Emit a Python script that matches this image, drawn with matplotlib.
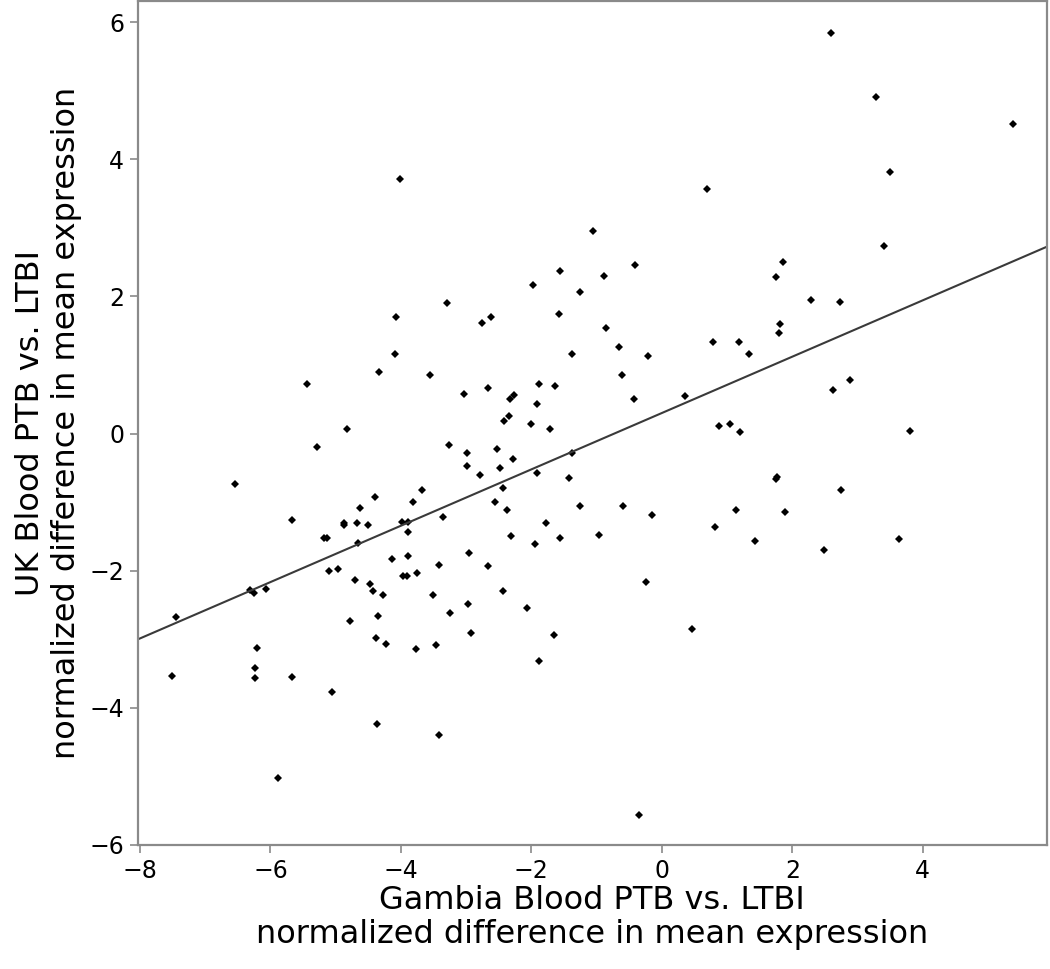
import numpy as np
import matplotlib
matplotlib.use('Agg')
import matplotlib.pyplot as plt

# ----------------------------
# Data
# ----------------------------
gambia = [
    -4.01, 0.69, -1.05, -1.56, -0.41, -0.88, -1.97, -1.25, -3.30, 2.59,
    3.28, 5.38, 3.50, 3.40, 1.85, 1.75, 2.29, 2.73, 1.81, 1.79,
    0.78, 1.18, 1.33, 2.89, 2.62, 0.87, 1.05, 1.20, 3.80, 1.77,
    1.75, 2.75, 1.13, 1.89, 0.82, 1.43, 2.49, 3.64, -2.75, -2.62,
    -1.57, -0.86, -0.66, -1.37, -0.21, -3.55, -0.61, -3.03, -2.67, -1.89,
    -1.64, -2.33, -2.27, -1.91, -0.42, 0.35, -2.35, -2.42, -2.01, -1.71,
    -3.26, -2.99, -2.52, -2.98, -2.28, -2.48, -2.78, -1.92, -1.37, -1.43,
    -2.43, -3.67, -3.81, -2.55, -2.38, -1.26, -0.59, -0.15, -3.35, -3.99,
    -3.89, -3.89, -1.78, -2.31, -1.94, -1.56, -0.97, -3.89, -3.42, -2.95,
    -2.67, -3.97, -3.91, -3.75, -3.51, -2.43, -3.24, -2.97, -2.07, -2.93,
    -1.65, -3.77, -3.46, -1.89, -0.24, 0.47, -3.41, -0.35, -7.44, -7.51,
    -6.31, -6.25, -6.07, -6.20, -6.24, -6.24, -5.67, -5.89, -5.10, -4.96,
    -5.05, -4.71, -4.78, -4.48, -4.43, -4.28, -4.35, -4.38, -4.23, -4.37,
    -4.14, -4.07, -4.09, -4.34, -5.44, -4.82, -5.29, -6.55, -5.67, -5.18,
    -5.14, -4.87, -4.87, -4.68, -4.50, -4.63, -4.39, -4.65,
]
uk = [
    3.72, 3.57, 2.95, 2.37, 2.46, 2.30, 2.17, 2.06, 1.91, 5.85,
    4.91, 4.52, 3.81, 2.74, 2.50, 2.28, 1.95, 1.92, 1.60, 1.47,
    1.34, 1.33, 1.16, 0.78, 0.64, 0.11, 0.14, 0.02, 0.04, -0.64,
    -0.66, -0.82, -1.12, -1.14, -1.36, -1.57, -1.70, -1.54, 1.61, 1.70,
    1.74, 1.54, 1.27, 1.16, 1.13, 0.85, 0.86, 0.58, 0.67, 0.72,
    0.69, 0.50, 0.57, 0.43, 0.51, 0.55, 0.25, 0.18, 0.14, 0.06,
    -0.17, -0.28, -0.22, -0.47, -0.37, -0.50, -0.61, -0.57, -0.28, -0.65,
    -0.80, -0.82, -1.00, -1.00, -1.12, -1.06, -1.06, -1.19, -1.22, -1.29,
    -1.29, -1.44, -1.31, -1.50, -1.61, -1.52, -1.48, -1.78, -1.92, -1.74,
    -1.93, -2.08, -2.08, -2.04, -2.36, -2.30, -2.61, -2.48, -2.54, -2.91,
    -2.94, -3.14, -3.09, -3.32, -2.17, -2.85, -4.39, -5.56, -2.67, -3.53,
    -2.28, -2.33, -2.27, -3.12, -3.42, -3.57, -3.55, -5.02, -2.01, -1.98,
    -3.77, -2.14, -2.74, -2.20, -2.30, -2.35, -2.66, -2.98, -3.07, -4.23,
    -1.83, 1.70, 1.16, 0.90, 0.72, 0.06, -0.19, -0.73, -1.26, -1.52,
    -1.52, -1.30, -1.34, -1.30, -1.34, -1.08, -0.92, -1.59,
]

# fitted line (slope, intercept)
fit_slope = 0.411
fit_intercept = 0.30

x_ticks = [-8, -6, -4, -2, 0, 2, 4]
y_ticks = [-6, -4, -2, 0, 2, 4, 6]

# ----------------------------
# Figure
# ----------------------------
fig = plt.figure(figsize=(10.5, 9.69), dpi=100)
ax = fig.add_axes([0.1314, 0.128, 0.8655, 0.871])

ax.plot(gambia, uk, linestyle='none', marker='D', markersize=4.4,
        color='black', markeredgewidth=0)

xl = (-8.03, 5.9)
xs = np.array(xl)
ax.plot(xs, fit_slope * xs + fit_intercept, color='#3a3a3a', linewidth=1.5)

ax.set_xlim(*xl)
ax.set_ylim(-6.0, 6.31)
ax.set_xticks(x_ticks)
ax.set_yticks(y_ticks)

for sp in ax.spines.values():
    sp.set_color('#8a8a8a')
    sp.set_linewidth(1.6)

ax.tick_params(axis='both', direction='out', length=6, width=1.2,
               color='#8a8a8a', labelsize=17, pad=4)

ax.set_xlabel("Gambia Blood PTB vs. LTBI\nnormalized difference in mean expression",
              fontsize=23, linespacing=1.15)
ax.set_ylabel("UK Blood PTB vs. LTBI\nnormalized difference in mean expression",
              fontsize=23, linespacing=1.2)
# place the label blocks where they sit in the original
ax.xaxis.set_label_coords(0.5, -0.047)
ax.yaxis.set_label_coords(-0.062, 0.5)

fig.savefig('out.png', dpi=100)
